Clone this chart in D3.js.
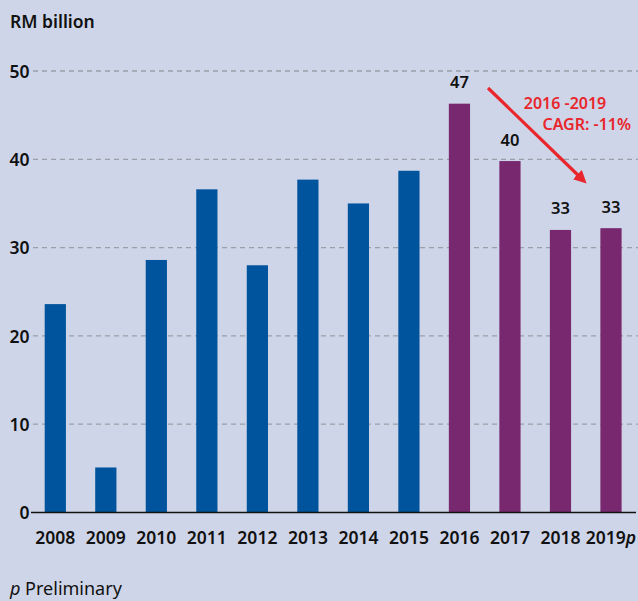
<!DOCTYPE html>
<html><head><meta charset="utf-8">
<script src="https://cdn.jsdelivr.net/npm/d3@7"></script>
<style>
html,body{margin:0;padding:0;background:#cfd5e8;}
svg{display:block;font-family:"Noto Sans","Open Sans",sans-serif;}
</style></head>
<body>
<script>
const years = ["2008","2009","2010","2011","2012","2013","2014","2015","2016","2017","2018","2019"];
const values = [23.6,5.1,28.6,36.6,28.0,37.7,35.0,38.7,46.3,39.8,32.0,32.2];
const labelYears = ["2016","2017","2018","2019"];
const labelTexts = ["47","40","33","33"];
const yTicks = [0,10,20,30,40,50];
const preliminaryYear = "2019";
const unitLabel = "RM billion";
const annotationLines = ["2016 -2019","CAGR: -11%"];

const W = 638, H = 601;
const svg = d3.select("body").append("svg").attr("width",W).attr("height",H);
svg.append("rect").attr("width",W).attr("height",H).attr("fill","#cfd5e8");

const x = d3.scaleBand().domain(years).range([30.05,636.25]).paddingInner(0.58).paddingOuter(0.29);
const y = d3.scaleLinear().domain([0,50]).range([512.5,71]);

// grid
svg.append("g").selectAll("line").data(yTicks.filter(d=>d>0)).join("line")
  .attr("x1",33).attr("x2",W).attr("y1",d=>y(d)).attr("y2",d=>y(d))
  .attr("stroke","#9b9fa9").attr("stroke-width",1.3).attr("stroke-dasharray","5,4");

// y axis labels
const yAxis = d3.axisLeft(y).tickValues(yTicks).tickSize(0).tickPadding(0).tickFormat(d3.format("d"));
const gy = svg.append("g").attr("transform","translate(29.5,0)").call(yAxis);
gy.select(".domain").remove();
gy.selectAll("text").attr("font-size",17.5).attr("font-weight",600).attr("fill","#111")
  .attr("font-family",'"Noto Sans",sans-serif').attr("dy","0.35em");

// bars
svg.append("g").selectAll("rect").data(years).join("rect")
  .attr("x",d=>x(d)).attr("width",x.bandwidth())
  .attr("y",(d,i)=>y(values[i])).attr("height",(d,i)=>y(0)-y(values[i]))
  .attr("fill",(d)=> +d>=2016 ? "#78286e" : "#00549e");

// baseline
svg.append("line").attr("x1",31).attr("x2",636).attr("y1",y(0)).attr("y2",y(0))
  .attr("stroke","#111").attr("stroke-width",1.5);

// x axis labels
const xAxis = d3.axisBottom(x).tickSize(0).tickPadding(0);
const gx = svg.append("g").attr("transform","translate(0,"+y(0)+")").call(xAxis);
gx.select(".domain").remove();
gx.selectAll("text").attr("font-size",17.5).attr("font-weight",600).attr("fill","#111")
  .attr("font-family",'"Noto Sans",sans-serif').attr("dy",0).attr("y",31);
gx.selectAll(".tick").filter(d=>d===preliminaryYear).select("text")
  .append("tspan").attr("font-style","italic").text("p");

// value labels
svg.append("g").selectAll("text").data(labelYears).join("text")
  .attr("x",d=>x(d)+x.bandwidth()/2)
  .attr("y",(d)=>y(values[years.indexOf(d)])-15.5)
  .attr("text-anchor","middle").attr("font-size",16.5).attr("font-weight",600).attr("fill","#111")
  .text((d,i)=>labelTexts[i]);

// unit label
svg.append("text").attr("x",10).attr("y",28).attr("font-size",17.5).attr("font-weight",600)
  .attr("fill","#111").text(unitLabel);

// footnote
const fn = svg.append("text").attr("x",10).attr("y",595).attr("font-size",18).attr("fill","#111");
fn.append("tspan").attr("font-style","italic").text("p");
fn.append("tspan").text(" Preliminary");

// annotation arrow
const red = "#e8262b";
svg.append("defs").append("marker").attr("id","ah").attr("viewBox","0 0 10 10")
  .attr("refX",5).attr("refY",5).attr("markerWidth",4).attr("markerHeight",4)
  .attr("orient","auto").attr("markerUnits","strokeWidth")
  .append("path").attr("d","M0,0L10,5L0,10z").attr("fill",red);
svg.append("line").attr("x1",488).attr("y1",88).attr("x2",582).attr("y2",179)
  .attr("stroke",red).attr("stroke-width",3.2).attr("marker-end","url(#ah)");

svg.append("text").attr("x",565).attr("y",109).attr("text-anchor","middle")
  .attr("font-size",16).attr("font-weight",600).attr("fill",red).text(annotationLines[0]);
svg.append("text").attr("x",631).attr("y",130).attr("text-anchor","end")
  .attr("font-size",16).attr("font-weight",600).attr("fill",red).text(annotationLines[1]);
</script>
</body></html>
